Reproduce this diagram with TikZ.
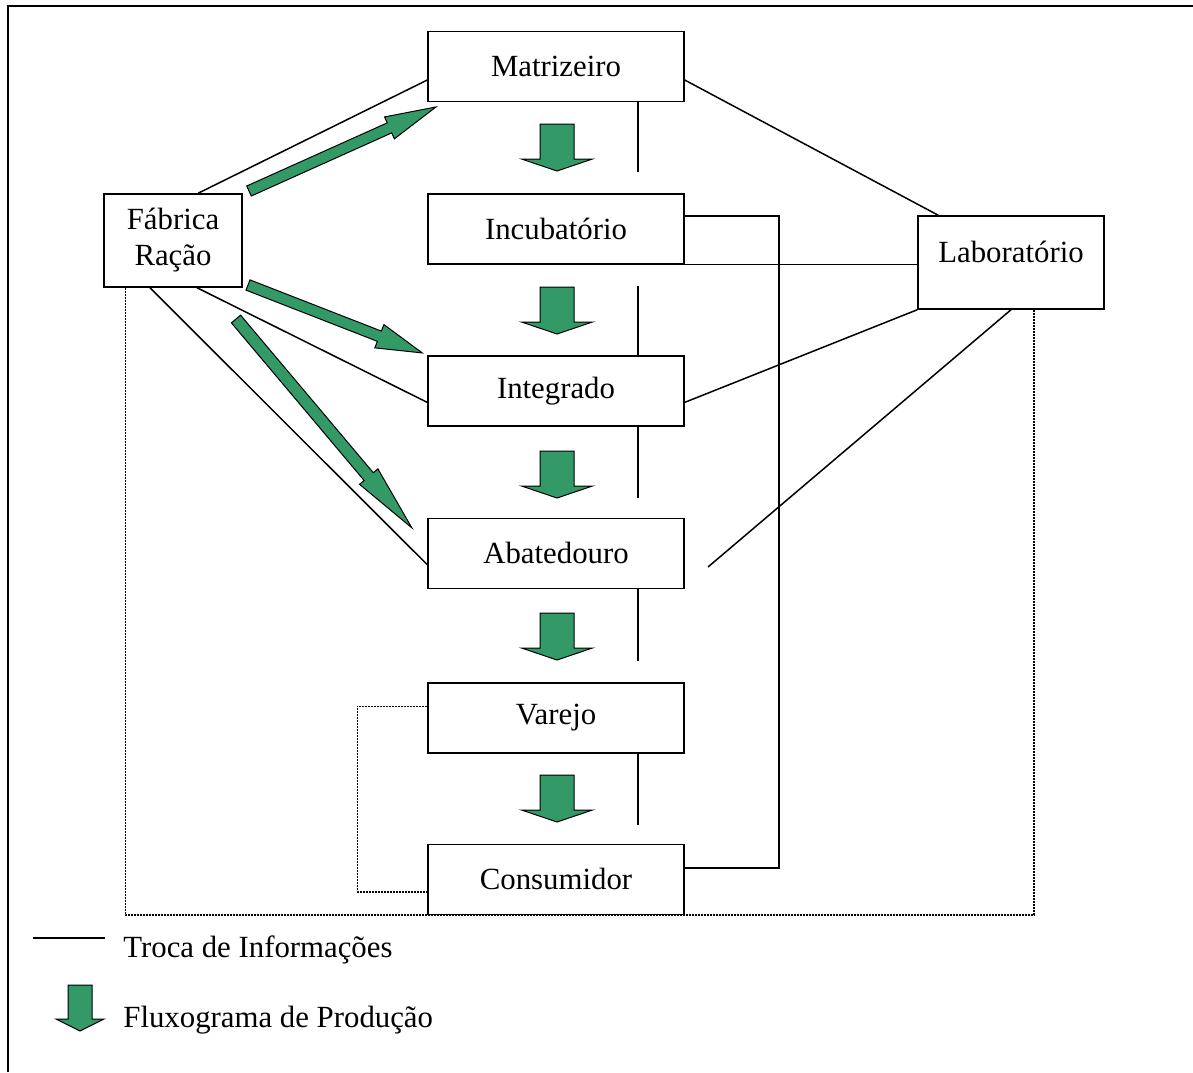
\documentclass[tikz,border=0pt]{standalone}
\usepackage{fontspec}
\setmainfont{Liberation Serif}
\usepackage{xcolor}
\usetikzlibrary{calc}
\usetikzlibrary{positioning}

\definecolor{flowgreen}{RGB}{51,153,102}

% block arrow: tail, angle, length, head length, shaft width, head width
\newcommand{\blockarrow}[6]{%
  \begin{scope}[shift={#1}, rotate=#2]
    \filldraw[flow] (0,-#5/2) -- (#3-#4,-#5/2) -- (#3-#4,-#6/2) -- (#3,0)
      -- (#3-#4,#6/2) -- (#3-#4,#5/2) -- (0,#5/2) -- cycle;
  \end{scope}}

\begin{document}
\begin{tikzpicture}[%
  x=0.5pt, y=-0.5pt,
  font=\fontsize{15.4}{18}\selectfont,
  node distance=45.4pt,
  stage/.style={draw, line width=0.75pt, minimum width=128pt, minimum height=35pt, inner sep=0pt},
  info/.style={draw=black, line width=0.75pt},
  loose/.style={draw=black, line width=0.7pt, dash pattern=on 1pt off 0.5pt},
  flow/.style={fill=flowgreen, draw=black, line width=0.5pt, line join=miter},
  frame/.style={line width=1pt},
  legend/.style={anchor=base west, inner sep=0pt}
  ]
  \useasboundingbox (0,0) rectangle (1193,1072);
  \draw[frame] (8,1072) -- (8,6) -- (1193,6);

  % the production chain
  \node[stage] (mat) at (556,66.5) {Matrizeiro};
  \node[stage, below=of mat] (inc) {Incubatório};
  \node[stage, below=of inc] (int) {Integrado};
  \node[stage, below=of int] (aba) {Abatedouro};
  \node[stage, below=46.5pt of aba] (var) {Varejo};
  \node[stage, below=45pt of var] (con) {Consumidor};

  % side boxes
  \node[stage, minimum width=69pt, minimum height=46.5pt, align=center] (fab) at (173,240.5) {Fábrica\\Ração};
  \node[stage, minimum width=93pt, minimum height=46.5pt] (lab) at (1011,262.5) {};
  \node (lab-txt) at (1011,252) {Laboratório};

  \coordinate (vx) at (638,0);
  \coordinate (lab-end) at (708,567);
  \coordinate (dot-r) at ($(lab.south)+(23,0)$);

  % exchange of information
  \draw[info] (fab.62) -- (mat.186);
  \draw[info] (mat.354) -- (lab.147);
  \draw[info] (fab.297) -- (int.185);
  \draw[info] (fab.244) -- (aba.185);
  \draw[info] (int.355) -- (lab.south west);
  \draw[info] (lab.south) -- (lab-end);
  \draw[info] (inc.south east) -- (inc.south east -| lab.west);
  \draw[info] ($(inc.east)+(0,-13)$) -- ++(94,0) |- ($(con.east)+(0,-11.5)$);
  \draw[info] (mat.south -| vx) -- ++(0,70);
  \draw[info] (int.north -| vx) -- ++(0,-69);
  \draw[info] (int.south -| vx) -- ++(0,71);
  \draw[info] (aba.south -| vx) -- ++(0,72);
  \draw[info] (var.south -| vx) -- ++(0,71);

  % dotted links
  \draw[loose] ($(fab.south west)+(22,0)$) |- (con.south -| dot-r) -- (dot-r);
  \draw[loose] ($(var.west)+(0,-11.5)$) -- ++(-70,0) |- ($(con.west)+(0,12.5)$);

  % production flow
  \foreach \t in {124,287,451,613,775}
  {\blockarrow{(557,\t)}{-90}{47}{12}{34}{71}}
  \blockarrow{(249,191)}{24.2}{205}{51}{11}{24}
  \blockarrow{(248,285)}{-21.3}{187}{46}{11}{25}
  \blockarrow{(236,319)}{-49.9}{273}{67}{12}{24}

  % legend
  \draw[info] (33,938) -- (105,938);
  \node[legend] (leg-info) at (123,957) {Troca de Informações};
  \blockarrow{(80,985)}{-90}{46}{12}{24}{48}
  \node[legend] (leg-flow) at (123,1027) {Fluxograma de Produção};
\end{tikzpicture}
\end{document}
